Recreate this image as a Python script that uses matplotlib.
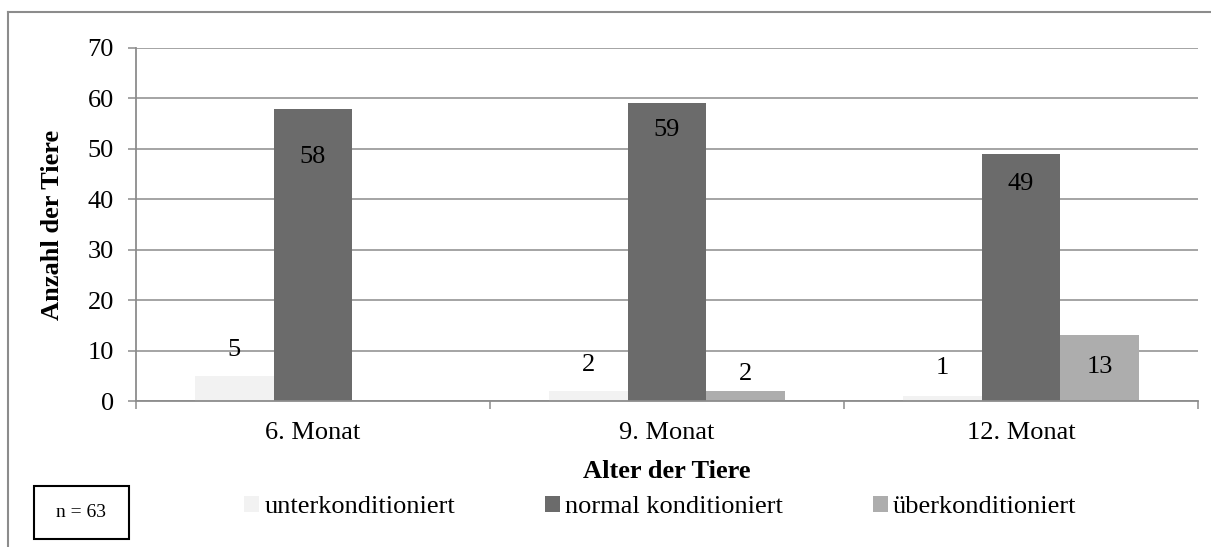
import matplotlib
matplotlib.use("Agg")
import matplotlib.pyplot as plt
from matplotlib.patches import Patch
from matplotlib.lines import Line2D
import numpy as np

# Data
categories = ["6. Monat", "9. Monat", "12. Monat"]
series_names = ["unterkonditioniert", "normal konditioniert", "überkonditioniert"]
unter = [5, 2, 1]
normal = [58, 59, 49]
ueber = [0, 2, 13]
y_ticks = [0, 10, 20, 30, 40, 50, 60, 70]
sample_note = "n = 63"

colors = ["#F2F2F2", "#6B6B6B", "#ADADAD"]
# vertical offsets (pixels) of value labels relative to the top of each bar
label_offsets = [
    [26, 26, 28],
    [-48, -27, -30],
    [None, 17, -32],
]

W, H, DPI = 1211, 547, 100
plt.rcParams["font.family"] = ["Liberation Serif", "DejaVu Serif"]
fig = plt.figure(figsize=(W / DPI, H / DPI), dpi=DPI)

L, R, T, B = 136, 1198, 48, 401
ax = fig.add_axes([L / W, 1 - B / H, (R - L) / W, (B - T) / H])

gray = "#8C8C8C"
x = np.arange(len(categories))
bw = 0.222
series = [unter, normal, ueber]
for i, (vals, col) in enumerate(zip(series, colors)):
    pos = x + (i - 1) * bw
    ax.bar(pos, vals, width=bw, color=col, zorder=2, linewidth=0)
    for p, v, off in zip(pos, vals, label_offsets[i]):
        if off is None:
            continue
        ax.annotate(str(v), (p, v), xytext=(0, off), textcoords="offset pixels",
                    ha="center", va="center", fontsize=19, color="black", zorder=3)

ax.set_xlim(-0.5, len(categories) - 0.5)
ax.set_ylim(0, 70)
ax.set_yticks(y_ticks)
ax.yaxis.grid(True, color=gray, linewidth=1.1, zorder=0)
ax.set_axisbelow(True)

ax.set_xticks(x)
ax.set_xticklabels(categories, fontsize=19)
ax.set_xticks(np.arange(len(categories) + 1) - 0.5, minor=True)
ax.tick_params(axis="x", which="major", length=0, pad=15)
ax.tick_params(axis="x", which="minor", length=6, width=1.1, color=gray, direction="out")
ax.tick_params(axis="y", length=6, width=1.1, color=gray, direction="out", pad=10, labelsize=19)

for s in ["top", "right"]:
    ax.spines[s].set_visible(False)
for s in ["left", "bottom"]:
    ax.spines[s].set_color(gray)
    ax.spines[s].set_linewidth(1.3)

ax.set_ylabel("Anzahl der Tiere", fontsize=19, fontweight="bold")
ax.yaxis.set_label_coords(-(L - 53) / (R - L), 0.5)
ax.set_xlabel("Alter der Tiere", fontsize=19, fontweight="bold")
ax.xaxis.set_label_coords(0.5, -(472 - B) / (B - T))
ax.xaxis.label.set_va("center")
ax.yaxis.label.set_va("center")

# Legend
handles = [Patch(facecolor=c, edgecolor="none") for c in colors]
fig.legend(handles, series_names, loc="center left",
           bbox_to_anchor=(244 / W, 1 - 507 / H), ncol=3, frameon=False,
           fontsize=19, handlelength=0.57, handleheight=0.57, handletextpad=0.2,
           columnspacing=3.4, borderaxespad=0, borderpad=0)

# Sample size box
box_l, box_r, box_t, box_b = 34, 129, 486, 539
fig.add_artist(plt.Rectangle((box_l / W, 1 - box_b / H), (box_r - box_l) / W, (box_b - box_t) / H,
                             transform=fig.transFigure, facecolor="white", edgecolor="black",
                             linewidth=1.5))
fig.text((box_l + box_r) / 2 / W, 1 - (box_t + box_b) / 2 / H, sample_note,
         ha="center", va="center", fontsize=14)

# Outer chart frame
fig.add_artist(Line2D([8 / W, 1.0], [1 - 12 / H, 1 - 12 / H], transform=fig.transFigure,
                      color=gray, linewidth=1.5))
fig.add_artist(Line2D([8 / W, 8 / W], [1 - 12 / H, 0.0], transform=fig.transFigure,
                      color=gray, linewidth=1.5))

fig.savefig("out.png", dpi=DPI, facecolor="white")
